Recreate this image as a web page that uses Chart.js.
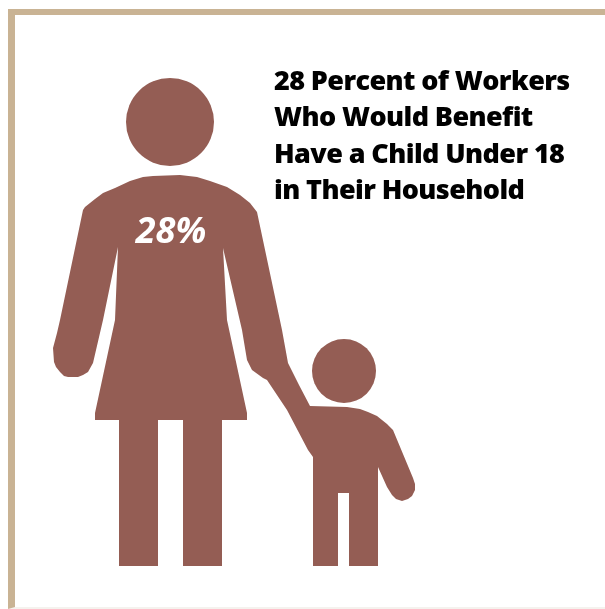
<!DOCTYPE html>
<html>
<head>
<meta charset="utf-8">
<title>28 Percent of Workers</title>
<script src="https://cdn.jsdelivr.net/npm/chart.js@4/dist/chart.umd.min.js"></script>
<style>
html, body { margin: 0; padding: 0; background: #fff; }
body { width: 605px; height: 609px; overflow: hidden; position: relative; }
#frame { position: absolute; left: 8px; top: 9px; right: 0; bottom: 0; border-left: 7px solid #c9b394; border-top: 6px solid #c9b394; border-bottom: 2px solid #f5f2ee; }
#chart { position: absolute; left: 0; top: 0; }
</style>
</head>
<body>
<div id="frame"></div>
<canvas id="chart" width="605" height="609"></canvas>
<script>
const sharePercent = 28;
const headingLines = ['28 Percent of Workers', 'Who Would Benefit', 'Have a Child Under 18', 'in Their Household'];

// outline in page units, y counted from the top: woman's shoulders, her arm down
// to the child, the child, then back up the arm and round the skirt and left arm
const figureX = [153,180,197,210,227,240,250,257,282,288,299,310,347,360,368,377,387,393,413,415,415,412,408,402,396,392,387,378,378,349,349,338,338,313,313,308,287,267,263,252,247,242,223,227,247,247,222,222,183,183,158,158,119,119,95,95,115,118,103,93,88,83,78,68,64,60,56,54,53,57,60,83,85,95,103,115,130,143];
const figureY = [176,175,177,181,187,195,203,212,330,363,385,406,407,409,412,416,424,430,478,484,490,496,499,501,499,495,487,467,566,566,493,493,566,566,457,450,410,380,378,370,360,330,248,320,413,420,420,566,566,420,420,566,566,420,420,413,320,247,320,363,372,375,377,377,376,372,367,362,348,333,320,210,207,199,193,188,181,177];
const headsX = [170, 344];
const headsY = [122, 371];
const headsR = [44, 32];

const brown = '#945d54';

const figurePoints = figureX.map((x, i) => ({ x: x, y: figureY[i] }));
const headPoints = headsX.map((x, i) => ({ x: x, y: headsY[i], r: headsR[i] }));

// texts are placed through the scales so they stay with the figures
const labelPlugin = {
    id: 'labels',
    afterDatasetsDraw(chart) {
        const ctx = chart.ctx;
        const sx = chart.scales.x;
        const sy = chart.scales.y;
        ctx.save();
        ctx.textBaseline = 'alphabetic';
        ctx.textAlign = 'left';
        ctx.fillStyle = '#000';
        ctx.font = '800 27px "Open Sans"';
        ctx.letterSpacing = '-0.6px';
        ctx.fontKerning = 'normal';
        const baselines = [90, 126, 163, 199];
        headingLines.forEach((line, i) => {
            ctx.fillText(line, sx.getPixelForValue(274), sy.getPixelForValue(baselines[i]));
        });
        ctx.letterSpacing = '0px';
        ctx.fillStyle = '#fff';
        ctx.font = 'italic bold 36px "Open Sans"';
        ctx.textAlign = 'center';
        ctx.fillText(sharePercent + '%', sx.getPixelForValue(171), sy.getPixelForValue(243));
        ctx.restore();
    }
};

new Chart(document.getElementById('chart'), {
    type: 'scatter',
    data: {
        datasets: [{
            type: 'bubble',
            data: headPoints,
            backgroundColor: brown,
            borderWidth: 0
        }, {
            type: 'scatter',
            data: figurePoints,
            showLine: true,
            fill: 'shape',
            backgroundColor: brown,
            borderColor: brown,
            borderWidth: 0,
            pointRadius: 0,
            tension: 0
        }]
    },
    options: {
        responsive: false,
        animation: false,
        layout: { padding: 0, autoPadding: false },
        plugins: { legend: { display: false }, tooltip: { enabled: false }, title: { display: false } },
        scales: {
            x: { type: 'linear', display: false, min: 0, max: 605 },
            y: { type: 'linear', display: false, min: 0, max: 609, reverse: true }
        }
    },
    plugins: [labelPlugin]
});
</script>
</body>
</html>
